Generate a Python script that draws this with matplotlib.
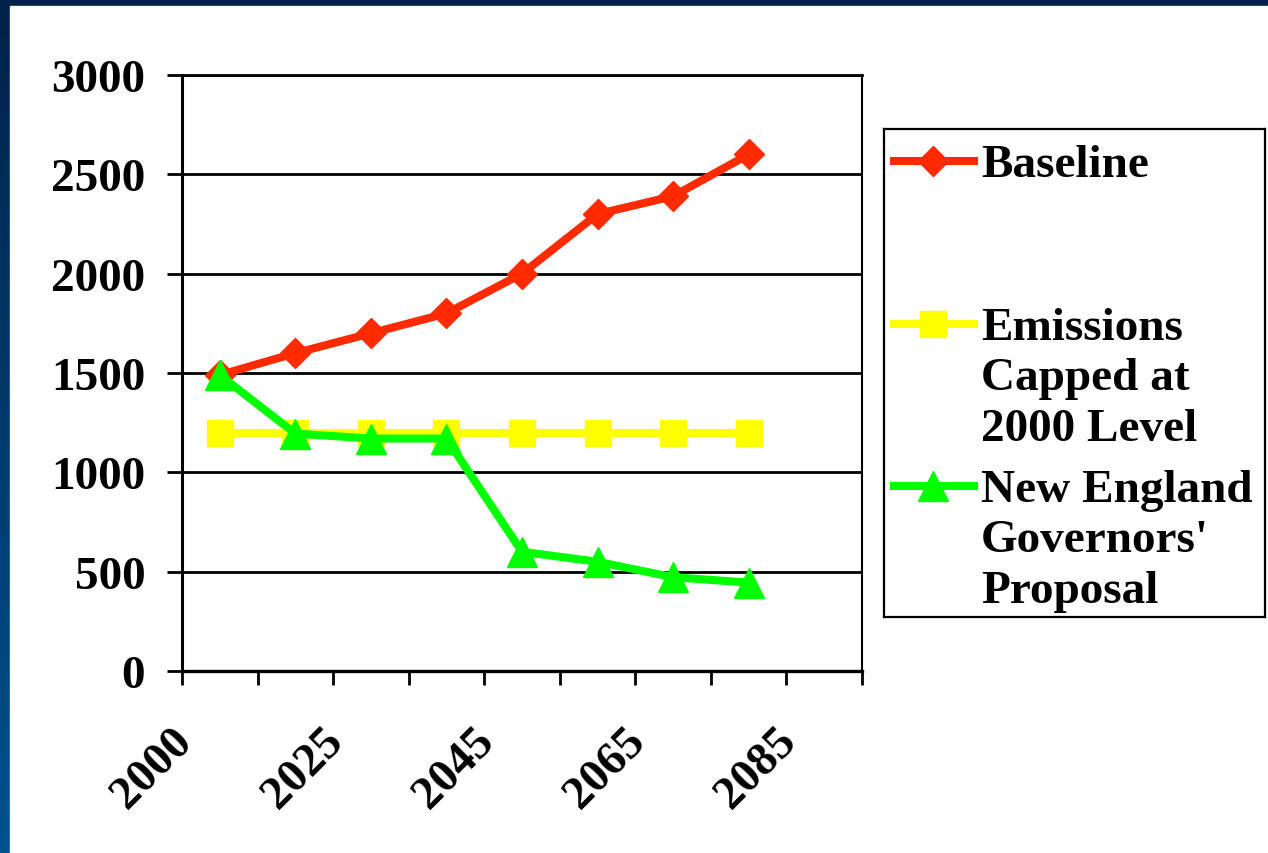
import numpy as np
import matplotlib
matplotlib.use("Agg")
import matplotlib.pyplot as plt
from matplotlib.lines import Line2D
from matplotlib.patches import Rectangle
from matplotlib.transforms import ScaledTranslation

plt.rcParams['font.family'] = ['Liberation Serif', 'DejaVu Serif']
plt.rcParams['font.weight'] = 'bold'

# data (9 category slots, 8 filled)
n_cats = 9
label_pos = [0, 2, 4, 6, 8]
tick_labels = ["2000", "2025", "2045", "2065", "2085"]
baseline = [1490, 1600, 1700, 1800, 2000, 2300, 2390, 2600]
capped = [1200, 1200, 1200, 1200, 1200, 1200, 1200, 1200]
proposal = [1490, 1195, 1170, 1170, 600, 550, 472, 445]
yticks = [0, 500, 1000, 1500, 2000, 2500, 3000]

names = ["Baseline", "Emissions\nCapped at\n2000 Level", "New England\nGovernors'\nProposal"]
colors = ["#ff2a00", "#ffff00", "#00ff00"]
markers = ["D", "s", "^"]
msizes = [15.5, 19, 21.5]

W, H = 1268, 854
fig = plt.figure(figsize=(W / 100, H / 100), dpi=100)

# dark blue frame on the top and left
bg = fig.add_axes([0, 0, 1, 1], zorder=-10)
grad = np.linspace(0, 1, 256).reshape(-1, 1)
top_c = np.array([0x00, 0x22, 0x48]) / 255
bot_c = np.array([0x00, 0x52, 0x8e]) / 255
img = top_c + (bot_c - top_c) * grad[:, :, None]
bg.imshow(img, extent=[0, 1, 0, 1], aspect='auto', origin='upper')
bg.add_patch(Rectangle((10 / W, 0), 1, 1 - 7 / H, color='white', zorder=2))
bg.set_xlim(0, 1)
bg.set_ylim(0, 1)
bg.axis('off')

ax = fig.add_axes([182 / W, 1 - 672 / H, 680 / W, 596 / H])
x = np.arange(len(baseline))
series = [baseline, capped, proposal]
for vals, c, m, ms in zip(series, colors, markers, msizes):
    ax.plot(x, vals, color=c, lw=5.8, marker=m, markersize=ms,
            markeredgecolor=c, zorder=3, solid_joinstyle='round')

ax.set_xlim(-0.5, n_cats - 0.5)
ax.set_ylim(0, 3000)
ax.set_yticks(yticks)
ax.set_yticklabels([str(v) for v in yticks])
ax.yaxis.grid(True, color='black', lw=2)
ax.set_axisbelow(True)

ax.set_xticks(np.arange(-0.5, n_cats, 1))
ax.set_xticklabels([])
ax.set_xticks(label_pos, minor=True)
ax.set_xticklabels(tick_labels, minor=True, rotation=45, ha='right', va='top')
ax.tick_params(axis='x', which='major', direction='out', length=10, width=2)
ax.tick_params(axis='x', which='minor', length=0, pad=35, labelsize=34)
ax.tick_params(axis='y', direction='out', length=10.5, width=2, pad=16, labelsize=34)
off = ScaledTranslation(-0.19, 0, fig.dpi_scale_trans)
for lab in ax.get_xticklabels(minor=True):
    lab.set_transform(lab.get_transform() + off)
    lab.set_fontweight('bold')
for lab in ax.get_yticklabels():
    lab.set_fontweight('bold')

ax.spines['left'].set_linewidth(2.2)
ax.spines['bottom'].set_linewidth(2.4)
ax.spines['top'].set_linewidth(2)
ax.spines['right'].set_linewidth(1.5)

# legend box, drawn in pixel units of the box
lx0, ly0, lx1, ly1 = 884, 130, 1265, 618
lax = fig.add_axes([lx0 / W, 1 - ly1 / H, (lx1 - lx0) / W, (ly1 - ly0) / H])
lax.set_xlim(0, lx1 - lx0)
lax.set_ylim(ly1 - ly0, 0)
lax.set_xticks([])
lax.set_yticks([])
for s in lax.spines.values():
    s.set_linewidth(1.6)
entry_y = [32, 195, 357]
for yy, name, c, m, ms in zip(entry_y, names, colors, markers, msizes):
    lax.add_line(Line2D([10, 90], [yy, yy], color=c, lw=5.8))
    lax.add_line(Line2D([49], [yy], color=c, marker=m, markersize=ms,
                        markeredgecolor=c, lw=0))
    lax.text(97, yy - 17, name, fontsize=34, fontweight='bold', ha='left',
             va='top', linespacing=1.26)

fig.savefig("out.png", dpi=100)
